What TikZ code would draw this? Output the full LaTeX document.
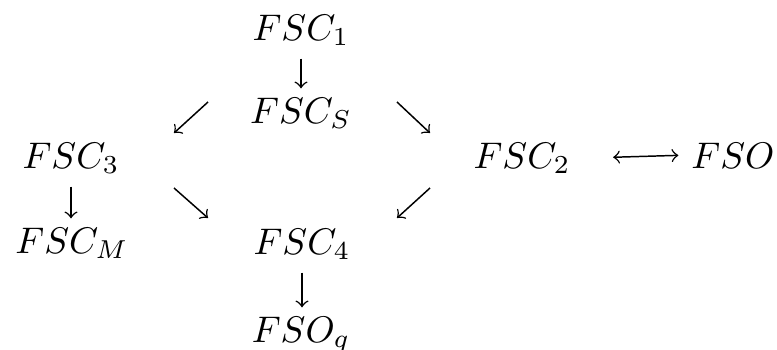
\documentclass[tikz,border=0pt]{standalone}
\usepackage{amsmath}
\usepackage{amssymb}
\usetikzlibrary{arrows.meta,positioning}

\begin{document}
\begin{tikzpicture}[
    x=0.27pt, y=-0.27pt,
    state/.style={anchor=base, inner sep=3.33pt},
    map/.style={->, line width=0.4pt},
    down/.style={map, shorten >=-1pt},
    >=to
  ]
  \useasboundingbox (0,0) rectangle (777,349);

  % middle column
  \node[state] (FSC1) at (301,40) {$FSC_1$};
  \node[state] (FSCS) at (301,123) {$FSC_S$};
  \node[state] (FSC4) at (302,254) {$FSC_4$};
  \node[state] (FSOq) at (301,342) {$FSO_q$};

  % left column
  \node[state] (FSC3) at (71,168) {$FSC_3$};
  \node[state] (FSCM) at (72,253) {$FSC_M$};

  % right side
  \node[state] (FSC2) at (522,168) {$FSC_2$};
  \node[state] (FSO) at (733,168) {$FSO$};

  % ends of the slanted arrows
  \coordinate (ulA) at (208,102);
  \coordinate (ulB) at (174,133);
  \coordinate (urA) at (397,102);
  \coordinate (urB) at (430,133);
  \coordinate (llA) at (174,188);
  \coordinate (llB) at (208,218);
  \coordinate (lrA) at (430,188);
  \coordinate (lrB) at (397,218);

  % down arrows
  \draw[down] (FSC1.south) -- (FSC1.south |- FSCS.north);
  \draw[down] (FSC3.south) -- (FSC3.south |- FSCM.north);
  \draw[down] (FSC4.south) -- (FSC4.south |- FSOq.north);

  % slanted arrows
  \draw[map] (ulA) -- (ulB);
  \draw[map] (urA) -- (urB);
  \draw[map] (llA) -- (llB);
  \draw[map] (lrA) -- (lrB);

  % both ways
  \draw[<->, line width=0.4pt, shorten <=8pt] (FSC2.east) -- (FSO.west);
\end{tikzpicture}
\end{document}
